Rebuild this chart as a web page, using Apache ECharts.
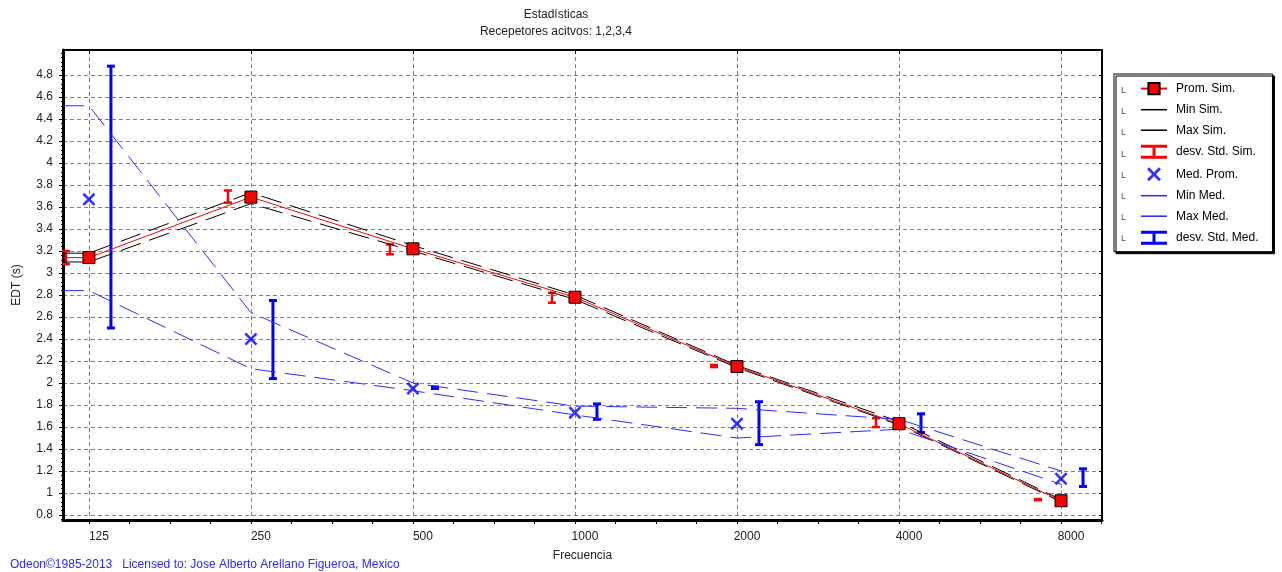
<!DOCTYPE html>
<html>
<head>
<meta charset="utf-8">
<title>Estadísticas EDT</title>
<script src="https://cdn.jsdelivr.net/npm/echarts@6/dist/echarts.min.js"></script>
<style>
  html, body { margin: 0; padding: 0; background: #fff; }
  #chart { width: 1282px; height: 572px; }
</style>
</head>
<body>
<div id="chart"></div>
<script>
// bandas de octava
const freqs = [125, 250, 500, 1000, 2000, 4000, 8000];
const freqLabels = ['125', '250', '500', '1000', '2000', '4000', '8000'];
const yTicks = [0.8, 1, 1.2, 1.4, 1.6, 1.8, 2, 2.2, 2.4, 2.6, 2.8, 3, 3.2, 3.4, 3.6, 3.8, 4, 4.2, 4.4, 4.6, 4.8];

// simulación
const promSim = [3.14, 3.69, 3.22, 2.78, 2.15, 1.63, 0.93];
const minSim = [3.10, 3.63, 3.20, 2.76, 2.14, 1.62, 0.92];
const maxSim = [3.18, 3.73, 3.25, 2.80, 2.16, 1.65, 0.94];
const stdSimLow = [3.08, 3.64, 3.17, 2.73, 2.145, 1.60, 0.935];
const stdSimHigh = [3.20, 3.75, 3.26, 2.82, 2.165, 1.68, 0.945];

// medición
const medProm = [3.67, 2.40, 1.95, 1.73, 1.63, 1.63, 1.13];
const minMed = [2.84, 2.13, 1.93, 1.71, 1.50, 1.58, 1.08];
const maxMed = [4.52, 2.64, 2.00, 1.79, 1.77, 1.67, 1.20];
const stdMedLow = [2.50, 2.04, 1.95, 1.67, 1.44, 1.55, 1.06];
const stdMedHigh = [4.88, 2.75, 1.965, 1.81, 1.83, 1.72, 1.22];

const FONT = '"Liberation Sans", Arial, sans-serif';
const BLUE = '#0000ff';
const BLUE_LINE = '#2b2bff';
const RED = '#ff0000';

// eje x en octavas desde 125 Hz
const X_MIN = -0.16, X_MAX = 6.253;
const Y_MIN = 0.755, Y_MAX = 5.027;
const oct = f => Math.log2(f / 125);
const xMajor = freqs.map(oct);

// marcas menores: cuartos de octava en x, 0.04 en y
const xMinor = [];
xMajor.forEach(v => { for (let k = 0; k < 4; k++) if (v + k / 4 <= X_MAX) xMinor.push(v + k / 4); });
const yMinor = [];
for (let v = 0.76; v < Y_MAX; v += 0.04) yMinor.push(Math.round(v * 100) / 100);

// las líneas arrancan planas desde el borde izquierdo
function lineData(vals, withSymbol) {
    const d = vals.map((v, i) => [oct(freqs[i]), v]);
    const first = { value: [X_MIN, vals[0]] };
    if (withSymbol) first.symbol = 'none';
    return [first].concat(d);
}
function barData(lo, hi) {
    return freqs.map((f, i) => [oct(f), lo[i], hi[i]]);
}

// barras de desviación (desplazadas en px a un lado del punto)
function errorBar(shift, color, width) {
    return function (params, api) {
        const lo = api.coord([api.value(0), api.value(1)]);
        const hi = api.coord([api.value(0), api.value(2)]);
        const x = lo[0] + shift, half = 4;
        const style = { stroke: color, lineWidth: width, fill: null };
        return {
            type: 'group',
            children: [
                { type: 'line', shape: { x1: x, y1: lo[1], x2: x, y2: hi[1] }, style },
                { type: 'line', shape: { x1: x - half, y1: lo[1], x2: x + half, y2: lo[1] }, style },
                { type: 'line', shape: { x1: x - half, y1: hi[1], x2: x + half, y2: hi[1] }, style }
            ]
        };
    };
}

const IBEAM = 'path://M0,0H26V3H14.5V11H26V14H0V11H11.5V3H0Z';
const XMARK = 'path://M0,2L2,0L7,5L12,0L14,2L9,7L14,12L12,14L7,9L2,14L0,12L5,7Z';
const HLINE = 'path://M0,0H22V1.3H0Z';

const legendNames = ['Prom. Sim.', 'Min Sim.', 'Max Sim.', 'desv. Std. Sim.',
    'Med. Prom.', 'Min Med.', 'Max Med.', 'desv. Std. Med.'];

const gridLine = { show: true, lineStyle: { color: '#808080', type: [4, 3], width: 1 } };
const txt = { fontSize: 12, color: '#222', fontFamily: FONT };

const chart = echarts.init(document.getElementById('chart'), null, { renderer: 'canvas' });

chart.setOption({
    animation: false,
    textStyle: { fontFamily: FONT },
    title: [
        { text: 'Estadísticas', left: 556, top: 9, padding: 0, textAlign: 'center',
          textStyle: Object.assign({ fontWeight: 'normal' }, txt) },
        { text: 'Recepetores acitvos: 1,2,3,4', left: 556, top: 26, padding: 0, textAlign: 'center',
          textStyle: Object.assign({ fontWeight: 'normal' }, txt) },
        { text: 'Odeon©1985-2013   Licensed to: Jose Alberto Arellano Figueroa, Mexico', left: 10, top: 559, padding: 0,
          textStyle: { fontSize: 12, fontWeight: 'normal', color: '#2a2aff', fontFamily: FONT } }
    ],
    legend: {
        orient: 'vertical',
        left: 1114,
        top: 74,
        padding: [8, 14, 7, 26],
        itemWidth: 26,
        itemHeight: 14,
        itemGap: 8.5,
        selectedMode: false,
        backgroundColor: '#fff',
        borderColor: '#000',
        borderWidth: 1,
        shadowColor: '#000',
        shadowOffsetX: 2,
        shadowOffsetY: 2,
        shadowBlur: 0,
        lineStyle: { type: 'solid' },
        textStyle: { fontFamily: FONT, fontSize: 12, color: '#000', padding: [0, 0, 0, 4] },
        data: [
            { name: 'Prom. Sim.' },
            { name: 'Min Sim.', icon: HLINE },
            { name: 'Max Sim.', icon: HLINE },
            { name: 'desv. Std. Sim.', icon: IBEAM },
            { name: 'Med. Prom.', icon: XMARK },
            { name: 'Min Med.', icon: HLINE },
            { name: 'Max Med.', icon: HLINE },
            { name: 'desv. Std. Med.', icon: IBEAM }
        ]
    },
    graphic: legendNames.map((n, i) => ({
        type: 'text', z: 100, left: 1121, top: 86 + i * 21.2,
        style: { text: 'L', fontSize: 9, fill: '#555', fontFamily: FONT }
    })),
    grid: {
        left: 63, right: 180, top: 50, bottom: 52,
        outerBoundsMode: 'none',
        show: true, borderColor: '#000', borderWidth: 1
    },
    xAxis: [{
        type: 'value',
        min: X_MIN, max: X_MAX,
        name: 'Frecuencia', nameLocation: 'middle', nameGap: 30,
        nameTextStyle: txt,
        axisLine: { onZero: false, lineStyle: { color: '#000', width: 3 } },
        axisTick: { show: true, length: 4, customValues: xMajor, lineStyle: { color: '#000', width: 1 } },
        axisLabel: Object.assign({
            customValues: xMajor,
            margin: 11,
            padding: [0, 0, 0, 20],
            formatter: v => {
                const i = xMajor.findIndex(x => Math.abs(x - v) < 1e-6);
                return i >= 0 ? freqLabels[i] : '';
            }
        }, txt),
        splitLine: gridLine
    }, {
        type: 'value', position: 'top',
        min: X_MIN, max: X_MAX,
        axisLine: { onZero: false, lineStyle: { color: '#000', width: 2 } },
        axisTick: { show: true, inside: true, length: 4, customValues: xMajor, lineStyle: { color: '#000' } },
        axisLabel: { show: false },
        splitLine: { show: false }
    }, {
        type: 'value', position: 'bottom',
        min: X_MIN, max: X_MAX,
        axisLine: { show: false, onZero: false },
        axisTick: { show: true, length: 4, customValues: xMinor, lineStyle: { color: '#000' } },
        axisLabel: { show: false },
        splitLine: { show: false }
    }],
    yAxis: [{
        type: 'value',
        min: Y_MIN, max: Y_MAX,
        name: 'EDT (s)', nameLocation: 'middle', nameGap: 40,
        nameTextStyle: txt,
        axisLine: { show: true, onZero: false, lineStyle: { color: '#000', width: 3 } },
        axisTick: { show: true, length: 4, customValues: yTicks, lineStyle: { color: '#000' } },
        axisLabel: Object.assign({ customValues: yTicks, margin: 10 }, txt),
        splitLine: gridLine
    }, {
        type: 'value', position: 'right',
        min: Y_MIN, max: Y_MAX,
        axisLine: { show: true, onZero: false, lineStyle: { color: '#000', width: 2 } },
        axisTick: { show: true, inside: true, length: 3, customValues: yTicks, lineStyle: { color: '#000' } },
        axisLabel: { show: false },
        splitLine: { show: false }
    }, {
        type: 'value', position: 'left',
        min: Y_MIN, max: Y_MAX,
        axisLine: { show: false, onZero: false },
        axisTick: { show: true, length: 2, customValues: yMinor, lineStyle: { color: '#000' } },
        axisLabel: { show: false },
        splitLine: { show: false }
    }],
    series: [
        {
            name: 'Min Sim.', type: 'line', data: lineData(minSim, false),
            symbol: 'none', color: '#000',
            lineStyle: { color: '#000', width: 1, type: [21, 9] }
        },
        {
            name: 'Max Sim.', type: 'line', data: lineData(maxSim, false),
            symbol: 'none', color: '#000',
            lineStyle: { color: '#000', width: 1, type: [21, 9] }
        },
        {
            name: 'Prom. Sim.', type: 'line', data: lineData(promSim, true),
            symbol: 'rect', symbolSize: 12, color: RED,
            lineStyle: { color: RED, width: 1 },
            itemStyle: { color: RED, borderColor: '#000', borderWidth: 1 }
        },
        {
            name: 'desv. Std. Sim.', type: 'custom', data: barData(stdSimLow, stdSimHigh),
            encode: { x: 0, y: [1, 2] }, color: RED, itemStyle: { color: RED },
            renderItem: errorBar(-23, RED, 2.5)
        },
        {
            name: 'Min Med.', type: 'line', data: lineData(minMed, false),
            symbol: 'none', color: BLUE_LINE,
            lineStyle: { color: BLUE_LINE, width: 1, type: [21, 9] }
        },
        {
            name: 'Max Med.', type: 'line', data: lineData(maxMed, false),
            symbol: 'none', color: BLUE_LINE,
            lineStyle: { color: BLUE_LINE, width: 1, type: [21, 9] }
        },
        {
            name: 'desv. Std. Med.', type: 'custom', data: barData(stdMedLow, stdMedHigh),
            encode: { x: 0, y: [1, 2] }, color: BLUE, itemStyle: { color: BLUE },
            renderItem: errorBar(22, BLUE, 3)
        },
        {
            name: 'Med. Prom.', type: 'scatter', data: medProm.map((v, i) => [oct(freqs[i]), v]),
            symbol: XMARK, symbolSize: 13, color: BLUE, itemStyle: { color: BLUE }
        }
    ]
});
</script>
</body>
</html>
